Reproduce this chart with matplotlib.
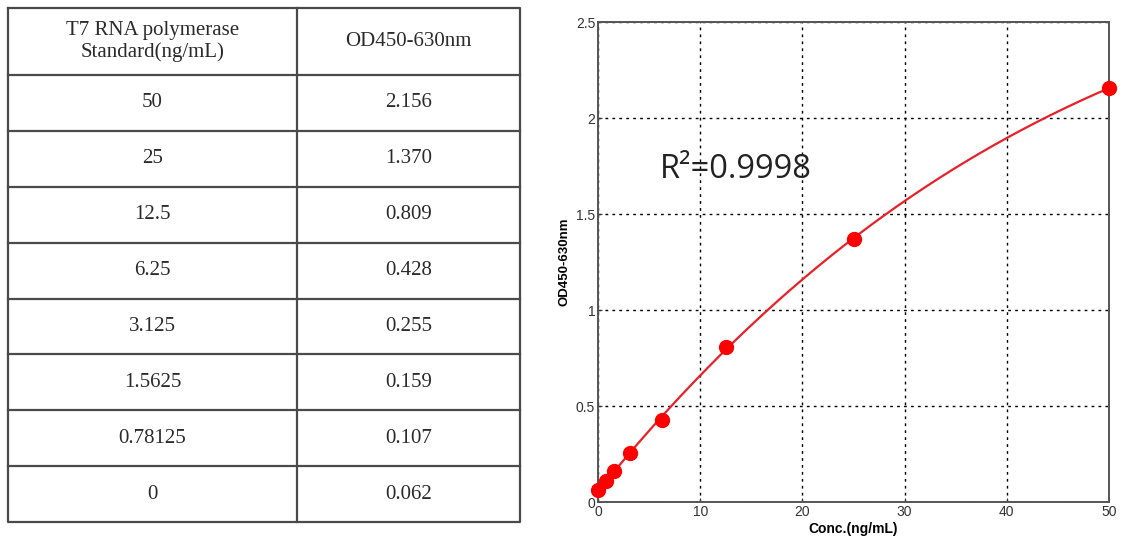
import numpy as np
import matplotlib.pyplot as plt

# standard curve data
conc = [50, 25, 12.5, 6.25, 3.125, 1.5625, 0.78125, 0]
conc_labels = ["50", "25", "12.5", "6.25", "3.125", "1.5625", "0.78125", "0"]
od = [2.156, 1.370, 0.809, 0.428, 0.255, 0.159, 0.107, 0.062]
od_labels = ["2.156", "1.370", "0.809", "0.428", "0.255", "0.159", "0.107", "0.062"]
header = ["T7 RNA polymerase\nStandard(ng/mL)", "OD450-630nm"]
r2_text = "R\u00b2=0.9998"

W, H = 1125, 544
fig = plt.figure(figsize=(W / 100, H / 100), dpi=100)

# ---- table on the left ----
tx0, tx1, tmid = 8, 520, 297
ty0, thead, ty1 = 8, 75, 522
tab = fig.add_axes([0, 0, 1, 1])
tab.set_xlim(0, W)
tab.set_ylim(H, 0)
tab.axis("off")

line_kw = dict(color="#4a4a4a", lw=1.6)
row_h = (ty1 - thead) / len(conc)
tab.plot([tx0, tx1, tx1, tx0, tx0], [ty0, ty0, ty1, ty1, ty0], **line_kw)
tab.plot([tmid, tmid], [ty0, ty1], **line_kw)
tab.plot([tx0, tx1], [thead, thead], **line_kw)
for i in range(1, len(conc)):
    y = thead + i * row_h
    tab.plot([tx0, tx1], [y, y], **line_kw)

txt_kw = dict(family="Liberation Serif", fontsize=15, color="#2a2a2a",
              ha="center", va="center", linespacing=1.15)
tab.text((tx0 + tmid) / 2, (ty0 + thead) / 2, header[0], **txt_kw)
tab.text((tmid + tx1) / 2, (ty0 + thead) / 2, header[1], **txt_kw)
for i, (c, o) in enumerate(zip(conc_labels, od_labels)):
    yc = thead + (i + 0.5) * row_h
    tab.text((tx0 + tmid) / 2, yc, c, **txt_kw)
    tab.text((tmid + tx1) / 2, yc, o, **txt_kw)

# ---- curve on the right ----
ax = fig.add_axes([598 / W, 42 / H, 511 / W, 480 / H])
ax.set_xlim(0, 50)
ax.set_ylim(0, 2.5)

coef = np.polyfit(conc, od, 3)
xs = np.linspace(0, 50, 300)
ax.plot(xs, np.polyval(coef, xs), color="#e8202a", lw=1.6, zorder=3)
ax.plot(conc, od, "o", color="#ff0000", markersize=10, zorder=4, clip_on=False)

ax.set_xticks([0, 10, 20, 30, 40, 50])
ax.set_yticks([0, 0.5, 1, 1.5, 2, 2.5])
ax.set_yticklabels(["0", "0.5", "1", "1.5", "2", "2.5"])
ax.tick_params(direction="in", length=3, labelsize=10, colors="#333333", pad=2)
for lab in ax.get_xticklabels() + ax.get_yticklabels():
    lab.set_family("Liberation Sans")
ax.grid(True, color="black", linestyle=(0, (2, 3)), lw=1.0)
for s in ax.spines.values():
    s.set_color("#555555")
    s.set_linewidth(1.4)

ax.set_xlabel("Conc.(ng/mL)", family="Liberation Sans", fontsize=10,
              fontweight="bold", labelpad=2)
ax.set_ylabel("OD450-630nm", family="Liberation Sans", fontsize=9.5,
              fontweight="bold", labelpad=4)

ax.text(6.1, 1.73, r2_text, family="Open Sans", fontsize=23.5, color="#222222",
        va="center", ha="left")

fig.savefig("out.png", dpi=100)
